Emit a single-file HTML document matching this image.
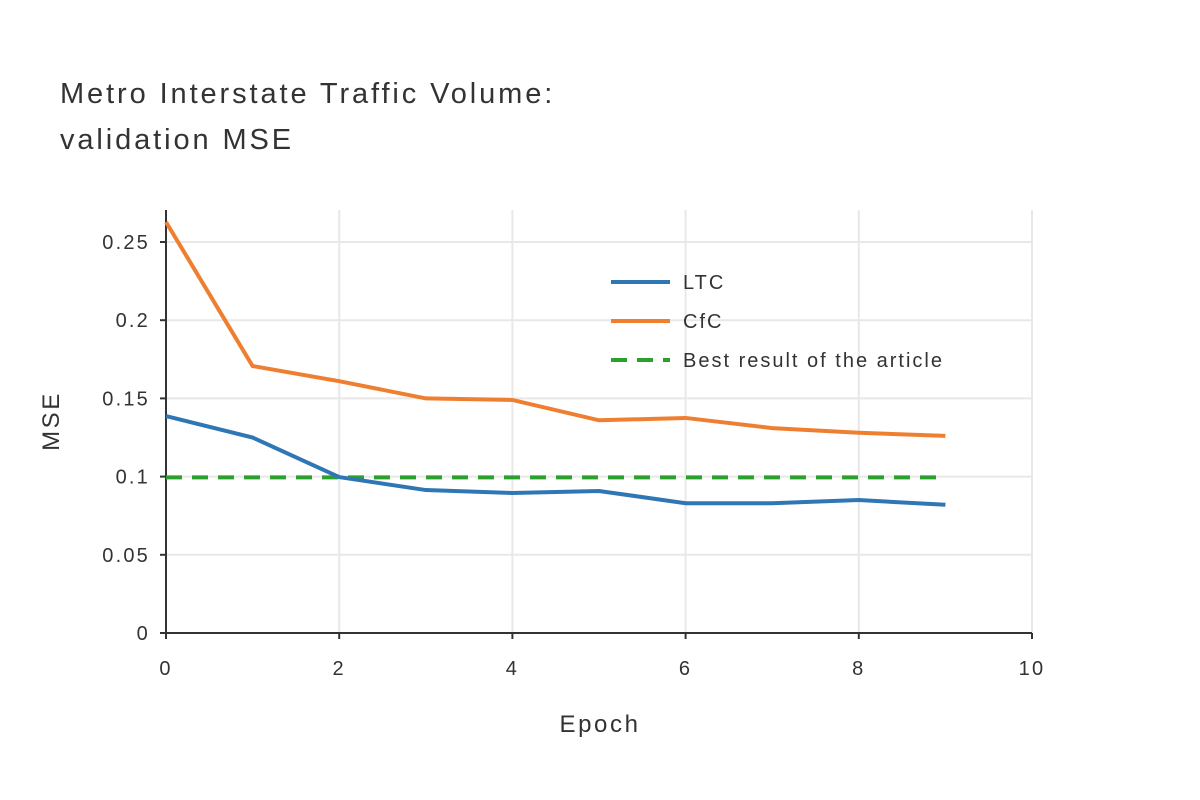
<!DOCTYPE html>
<html><head><meta charset="utf-8"><style>
body{margin:0;background:#fff;}
svg{display:block;font-family:"Liberation Sans",sans-serif;}
</style></head><body>
<svg id="chart" width="1200" height="800">
<text x="60" y="103" font-size="29" fill="#333" letter-spacing="2.9">Metro Interstate Traffic Volume:</text>
<text x="60" y="149" font-size="29" fill="#333" letter-spacing="2.9">validation MSE</text>
<g id="grid"></g><g id="axes"></g><g id="series"></g><g id="legend"></g>
<text x="600" y="732" font-size="24" fill="#333" letter-spacing="2.6" text-anchor="middle">Epoch</text>
<text transform="translate(59,421) rotate(-90)" font-size="24" fill="#333" letter-spacing="2.6" text-anchor="middle">MSE</text>
</svg>
<script>
const epochs=[0,1,2,3,4,5,6,7,8,9];
const ltc=[0.1387,0.125,0.0997,0.0914,0.0895,0.0908,0.083,0.083,0.085,0.082];
const cfc=[0.2628,0.1707,0.161,0.150,0.149,0.136,0.1375,0.131,0.128,0.126];
const best=[0.0995,0.0995];
const bestX=[0,9];
const xTicks=[0,2,4,6,8,10];
const yTicks=[0,0.05,0.1,0.15,0.2,0.25];
const yLabels=["0","0.05","0.1","0.15","0.2","0.25"];
const NS="http://www.w3.org/2000/svg";
const X=v=>166+v*86.6, Y=v=>633-v*1564;
function mk(p,t,a){const e=document.createElementNS(NS,t);for(const k in a)e.setAttribute(k,a[k]);document.getElementById(p).appendChild(e);return e;}
xTicks.forEach(t=>{if(t>0){const g=mk('grid','line',{x1:X(t),x2:X(t),y1:210,y2:633,stroke:'#e8e8e8','stroke-width':2});

}
const l=mk('axes','text',{x:X(t),y:675,'font-size':20,fill:'#333','text-anchor':'middle','letter-spacing':2.2});l.textContent=t;

});
yTicks.forEach((t,i)=>{if(t>0){const g=mk('grid','line',{x1:166,x2:1032,y1:Y(t),y2:Y(t),stroke:'#e8e8e8','stroke-width':2});

}
const l=mk('axes','text',{x:150,y:Y(t)+7,'font-size':20,fill:'#333','text-anchor':'end','letter-spacing':2.2});l.textContent=yLabels[i];

});
const ax=mk('axes','path',{d:`M166,210V633H1032`,fill:'none',stroke:'#333','stroke-width':2});


yTicks.forEach(t=>{mk('axes','line',{x1:160,x2:166,y1:Y(t),y2:Y(t),stroke:'#333','stroke-width':2});});
xTicks.forEach(t=>{mk('axes','line',{x1:X(t),x2:X(t),y1:633,y2:639,stroke:'#333','stroke-width':2});});
function line(xs,ys,c,dash,name){const p=mk('series','path',{d:xs.map((x,i)=>(i?'L':'M')+X(x)+','+Y(ys[i])).join(''),fill:'none',stroke:c,'stroke-width':4,'stroke-dasharray':dash||'none'});

}
line(bestX,best,'#2ca02c','16,10','best-result-line');
line(epochs,cfc,'#ef7f30',null,'cfc-line');
line(epochs,ltc,'#2f77b4',null,'ltc-line');
[['LTC','#2f77b4',null,282],['CfC','#ef7f30',null,321],['Best result of the article','#2ca02c','16,10',360]].forEach(([n,c,d,y])=>{
mk('legend','line',{x1:611,x2:670,y1:y,y2:y,stroke:c,'stroke-width':4,'stroke-dasharray':d||'none'});
const t=mk('legend','text',{x:683,y:y+7,'font-size':20,fill:'#333','letter-spacing':2});t.textContent=n;

});
</script>
</body></html>
